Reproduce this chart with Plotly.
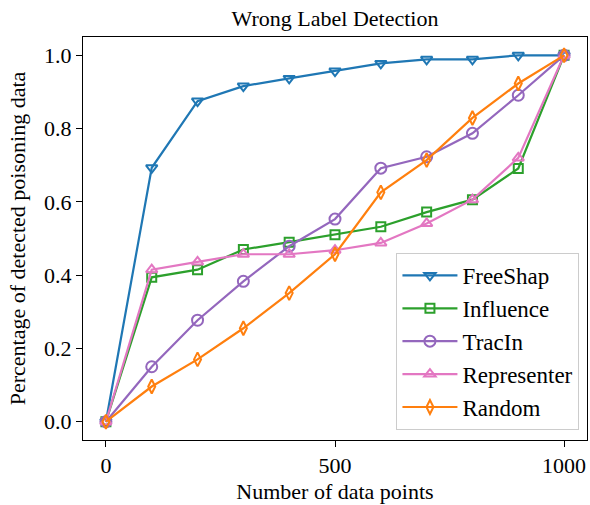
import plotly.graph_objects as go

x_vals = [0, 100, 200, 300, 400, 500, 600, 700, 800, 900, 1000]
freeshap = [0.0, 0.693, 0.875, 0.916, 0.937, 0.957, 0.978, 0.989, 0.989, 1.0, 1.0]
influence = [0.0, 0.394, 0.415, 0.47, 0.49, 0.51, 0.532, 0.572, 0.606, 0.691, 1.0]
tracin = [0.0, 0.15, 0.277, 0.383, 0.479, 0.553, 0.692, 0.723, 0.787, 0.891, 1.0]
representer = [0.0, 0.415, 0.436, 0.457, 0.457, 0.468, 0.488, 0.541, 0.606, 0.72, 1.0]
random_ = [0.0, 0.096, 0.17, 0.255, 0.351, 0.457, 0.626, 0.714, 0.829, 0.923, 1.0]

series = [
    ("FreeShap", freeshap, "#1f77b4", "triangle-down-open", 10),
    ("Influence", influence, "#2ca02c", "square-open", 9),
    ("TracIn", tracin, "#9467bd", "circle-open", 11),
    ("Representer", representer, "#e377c2", "triangle-up-open", 10),
    ("Random", random_, "#ff7f0e", "diamond-tall-open", 10),
]

font_family = "Liberation Serif"
fs = 22

fig = go.Figure()
for name, vals, color, sym, msize in series:
    fig.add_trace(go.Scatter(
        x=x_vals, y=vals, name=name, mode="lines+markers",
        line=dict(color=color, width=2.2),
        marker=dict(symbol=sym, size=msize, color=color, line=dict(color=color, width=2)),
    ))

fig.update_layout(
    width=590, height=505,
    margin=dict(l=83, r=3, t=37, b=65),
    paper_bgcolor="white", plot_bgcolor="white",
    font=dict(family=font_family, size=fs, color="black"),
    title=dict(text="Wrong Label Detection", x=0.5, xref="paper", xanchor="center",
               y=1 - 18 / 505, yanchor="middle", font=dict(size=fs, family=font_family)),
    showlegend=True,
    legend=dict(x=0.985, y=0.025, xanchor="right", yanchor="bottom",
                bgcolor="rgba(255,255,255,0.8)", bordercolor="#cccccc", borderwidth=1,
                font=dict(size=23, family=font_family), tracegroupgap=0,
                itemwidth=55),
)
fig.update_xaxes(range=[-50, 1050], tickvals=[0, 500, 1000], ticktext=["0", "500", "1000"],
                 showgrid=False, zeroline=False, showline=True, linecolor="black", linewidth=1,
                 mirror=True, ticks="outside", ticklen=6, tickcolor="black",
                 tickfont=dict(family=font_family, size=fs),
                 title=dict(text="Number of data points", font=dict(size=fs, family=font_family), standoff=6))
fig.update_yaxes(range=[-0.05, 1.05], tickvals=[0, 0.2, 0.4, 0.6, 0.8, 1.0],
                 ticktext=["0.0", "0.2", "0.4", "0.6", "0.8", "1.0"],
                 showgrid=False, zeroline=False, showline=True, linecolor="black", linewidth=1,
                 mirror=True, ticks="outside", ticklen=6, tickcolor="black",
                 tickfont=dict(family=font_family, size=fs),
                 title=dict(text="Percentage of detected poisoning data", font=dict(size=fs, family=font_family), standoff=12))

fig.write_html("out.html")
